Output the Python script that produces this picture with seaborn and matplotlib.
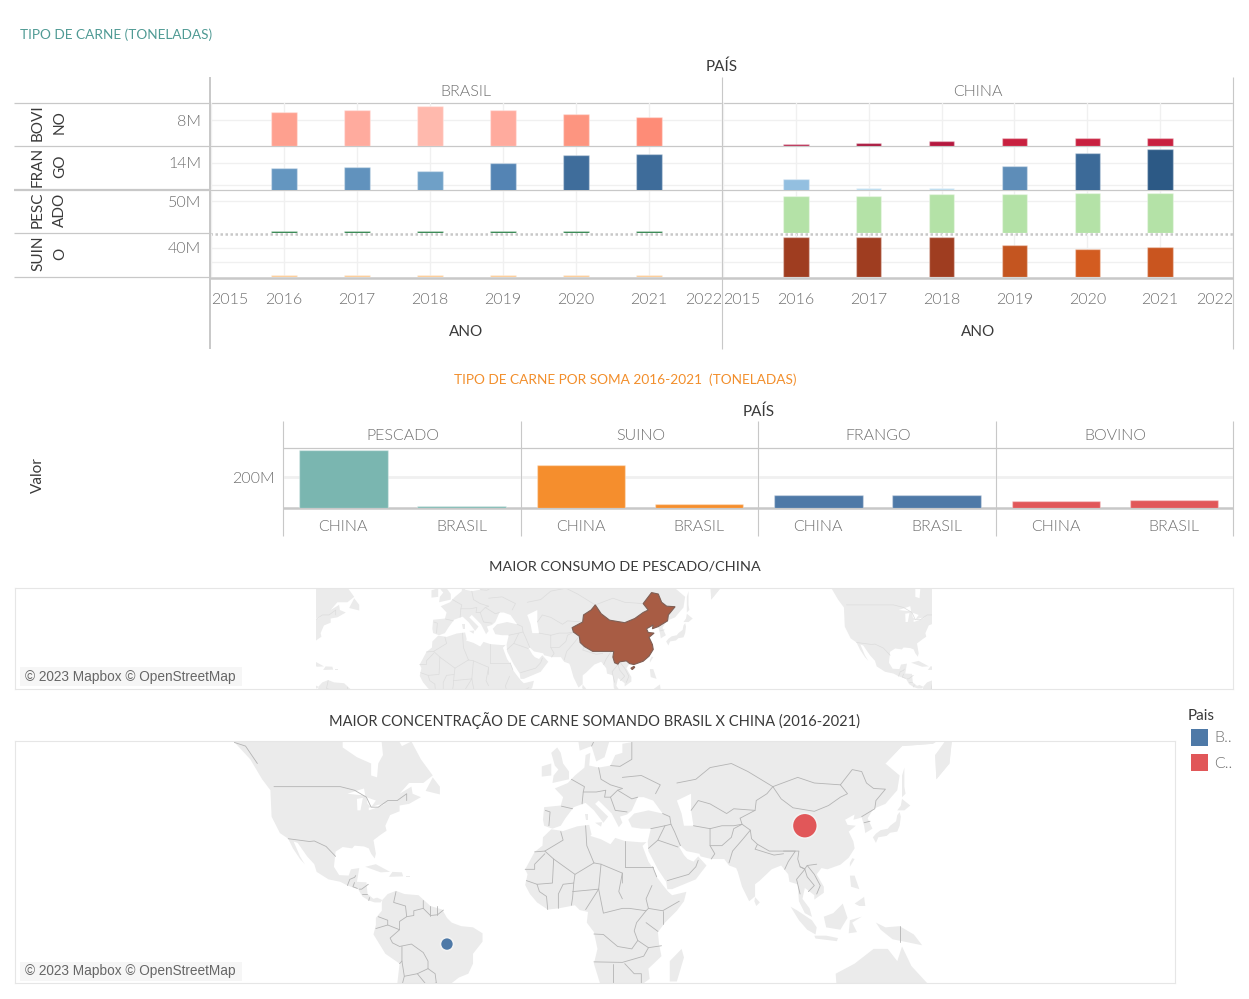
import numpy as np
import pandas as pd
import matplotlib
matplotlib.use("Agg")
import matplotlib.pyplot as plt
from matplotlib.patches import Polygon, Rectangle
import seaborn as sns

# =========================
# DATA (millions of tonnes)
# =========================
ANOS = [2016, 2017, 2018, 2019, 2020, 2021]
EIXO_ANOS = [2015, 2016, 2017, 2018, 2019, 2020, 2021, 2022]
PAISES = ["BRASIL", "CHINA"]
CARNES = ["BOVINO", "FRANGO", "PESCADO", "SUINO"]

BOVINO_BRASIL = [10.5, 11.3, 12.4, 11.3, 9.85, 9.0]
BOVINO_CHINA = [0.5, 0.9, 1.45, 2.5, 2.5, 2.5]
FRANGO_BRASIL = [13.52, 13.64, 13.27, 13.97, 14.67, 14.77]
FRANGO_CHINA = [12.49, 11.7, 11.7, 13.73, 14.88, 15.22]
PESCADO_BRASIL = [2.5, 2.5, 2.5, 2.5, 2.5, 2.5]
PESCADO_CHINA = [58.9, 58.9, 61, 61, 63, 63]
SUINO_BRASIL = [2.5, 2.5, 2.5, 2.5, 2.5, 2.5]
SUINO_CHINA = [55.6, 55.6, 55.6, 43.8, 38.4, 41.9]

SOMA_CARNES = ["PESCADO", "SUINO", "FRANGO", "BOVINO"]
SOMA_PAISES = ["CHINA", "BRASIL"]
SOMA_CHINA = [379, 280, 84, 42]
SOMA_BRASIL = [9, 24, 84, 51]
SOMA_CORES = ["#7ab6b0", "#f58e2d", "#4e79a7", "#e15759"]

PONTOS_PAIS = ["Brasil", "China"]
PONTOS_LON = [-50, 101]
PONTOS_LAT = [-10, 37]
PONTOS_VALOR = [168, 785]

# Colours of the yearly bars
CORES = {
    ("BOVINO", "BRASIL"): ["#fea08f", "#ffab9e", "#ffb9ad", "#ffab9e", "#fd9580", "#fe8c77"],
    ("BOVINO", "CHINA"): ["#b5224a", "#a8143a", "#b5173e", "#c8203f", "#c8203f", "#c8203f"],
    ("FRANGO", "BRASIL"): ["#6496c0", "#6192bd", "#6fa0c7", "#5484b4", "#3f6d9b", "#3e6c9a"],
    ("FRANGO", "CHINA"): ["#93bfe0", "#bcdcf0", "#bcdcf0", "#5e8db8", "#3c6a98", "#2c5985"],
    ("PESCADO", "BRASIL"): ["#1f7a3e"] * 6,
    ("PESCADO", "CHINA"): ["#b4e2a7"] * 6,
    ("SUINO", "BRASIL"): ["#fdc88d"] * 6,
    ("SUINO", "CHINA"): ["#9f3d20", "#9f3d20", "#9f3d20", "#c45520", "#d35c20", "#c9551f"],
}

# y range and gridlines of each row, with the only label shown
LINHAS = {
    "BOVINO": {"lim": (0, 13.4), "grid": [8], "rotulos": ["8M"]},
    "FRANGO": {"lim": (11.52, 15.43), "grid": [12, 14], "rotulos": ["", "14M"]},
    "PESCADO": {"lim": (0, 66), "grid": [50], "rotulos": ["50M"]},
    "SUINO": {"lim": (0, 59.3), "grid": [20, 40], "rotulos": ["", "40M"]},
}

# =========================
# COARSE MAP OUTLINES (lon, lat)
# =========================
TERRAS = [
    # North and Central America
    [(-168, 66), (-162, 70), (-156, 71), (-141, 70), (-128, 70), (-115, 68), (-108, 68), (-95, 68), (-94, 72),
     (-85, 70), (-82, 67), (-87, 64), (-94, 61), (-94, 58.7), (-88, 56.5), (-82, 55), (-82, 52), (-79.5, 51.5),
     (-79, 55), (-77, 57), (-78, 62), (-72, 61.5), (-69, 59), (-65, 60), (-61, 56), (-56, 52), (-60, 50), (-66, 50),
     (-70, 47), (-65, 49), (-64.5, 47), (-61, 46), (-66, 44), (-70, 43.5), (-70, 41.7), (-74, 40.5), (-76, 37),
     (-75.5, 35.3), (-78, 33.9), (-81, 32), (-80, 27), (-80.5, 25.2), (-82, 27), (-83, 29), (-85, 29.7), (-89, 30),
     (-90, 29), (-94, 29.5), (-97, 27.8), (-97.7, 22), (-95.5, 18.7), (-91.5, 18.5), (-90.5, 21), (-87, 21.5),
     (-88, 16), (-84, 15.8), (-83.5, 11), (-81, 9), (-79.5, 9.5), (-77.3, 8.5), (-78, 7.5), (-80.5, 7.5), (-83, 8.3),
     (-85.7, 10), (-87.5, 13), (-92, 14.5), (-95, 16), (-100, 17), (-105, 20), (-106, 23), (-109, 26), (-113, 31),
     (-114.7, 31.5), (-112, 26), (-110, 23), (-112, 25), (-115, 29), (-117, 32.5), (-120.5, 34.5), (-124, 40),
     (-124.5, 48), (-128, 51), (-133, 56), (-140, 60), (-150, 61), (-155, 58), (-162, 55), (-158, 58.5), (-165, 61),
     (-165, 64)],
    # South America
    [(-77.3, 8.5), (-75, 11), (-71.5, 12.3), (-68, 11), (-62, 10.5), (-57, 6), (-52, 4.5), (-50, 1), (-48, -1),
     (-44, -2.5), (-39, -3), (-35, -5.5), (-35, -9), (-39, -14), (-39, -18), (-41, -22), (-45, -23.5), (-48.5, -26),
     (-49, -29), (-53, -34), (-58, -34.5), (-57, -38), (-62, -39), (-65, -43), (-66, -47), (-69, -51), (-68, -55),
     (-73, -53), (-75, -47), (-73, -40), (-71.5, -30), (-70, -18), (-76, -14), (-81, -6), (-80, -2), (-80, 1),
     (-77.5, 4), (-77.5, 7)],
    # Africa
    [(-6, 35.8), (-1, 35.2), (5, 36.8), (10, 37.3), (11, 34), (10.5, 33.5), (15, 32.3), (19, 30.5), (21, 32.8),
     (25, 31.7), (32, 31.2), (34.2, 31.3), (32.5, 29.9), (35, 24), (37.2, 21), (38.5, 18), (41, 14.8), (43.3, 12),
     (45, 10.5), (51, 11.9), (50, 8), (47, 4), (42, -1), (39, -5), (39.5, -10), (40.5, -15), (35, -20), (35.5, -24),
     (32.5, -26), (32, -29), (27, -34), (20, -34.8), (18, -33), (15, -27), (12, -18), (13.5, -12), (12, -5), (9, -1),
     (9.5, 3.5), (6, 4.3), (4, 6.3), (-3, 5), (-7.5, 4.5), (-12, 7.5), (-15, 11), (-17, 14.7), (-16, 19), (-17, 21),
     (-13, 27.7), (-9.7, 30), (-9.5, 33)],
    # Eurasia
    [(-9, 37), (-9.5, 39), (-9, 43), (-2, 43.5), (-1, 46), (-4.5, 48.5), (1, 50), (4, 52), (8, 54), (8.5, 57),
     (10.5, 57.5), (10, 54.5), (14, 54), (19, 54.5), (21, 57), (24, 57.5), (24, 59.5), (30, 60), (23, 60), (21, 62.5),
     (25, 65.5), (22, 65.8), (17.5, 62), (18.5, 60), (16.5, 56.5), (13, 55.5), (11, 59), (6, 58), (5, 61.5),
     (12, 65.5), (18, 70), (26, 71), (41, 67), (40, 64.7), (44, 66), (54, 69), (68, 69), (68, 72.5), (80, 73),
     (100, 77), (113, 74), (130, 71), (140, 73), (160, 70), (180, 69), (180, 65), (177, 62.5), (163, 60), (162, 55),
     (156.5, 51), (156, 57), (163, 62), (155, 59.5), (142, 59), (135, 55), (141, 52), (140, 48), (135, 44),
     (130, 42.5), (127.5, 39.5), (129.5, 36), (126.5, 34.5), (126, 37), (125, 39.7), (121.5, 39), (122, 40.7),
     (118, 39), (119, 37.3), (122.5, 37), (119.5, 35), (121.5, 31.5), (122, 29), (119.5, 25.5), (116, 22.8),
     (110.5, 21), (108, 21.5), (106, 19), (109, 14), (109, 11.5), (105, 8.7), (105, 10.5), (101, 13.5), (100, 9),
     (103, 5), (104, 1.4), (101, 3), (98.5, 8), (98, 15), (94.5, 16), (94, 19), (91, 22.5), (87, 21), (82, 16.5),
     (80, 15), (80, 10), (77.5, 8), (74.5, 14), (72.7, 20), (72, 21.5), (69, 22.5), (67, 25), (61.5, 25), (57, 26),
     (56.5, 27), (51, 28), (48.5, 30), (48, 29.5), (50, 26.5), (51.5, 25), (54, 24), (56, 26), (59.5, 22.5), (55, 17),
     (45, 13), (43, 13), (42.5, 16), (39, 21), (35, 28), (34.7, 31.5), (36, 36), (32, 36), (28, 36.5), (26.5, 39),
     (29, 41), (35, 42), (41, 41), (37, 45), (35, 45.5), (33, 46), (30.5, 46), (28, 42), (26, 40.7), (23, 40),
     (24, 38), (22.5, 36.5), (19.5, 41), (14, 45), (12.5, 44), (18, 40), (16, 38), (12, 42), (8.5, 44.3), (3.5, 43),
     (0, 39.5), (-2, 37), (-5.5, 36)],
]

ILHAS = [
    [(-5.5, 50), (1.5, 51), (1.5, 53), (-1, 55), (-2, 57.5), (-3.5, 58.7), (-6, 57.5), (-4.5, 54.5), (-3, 53.5), (-5, 52)],
    [(-10, 51.7), (-6, 52), (-6, 55), (-10, 54.3)],
    [(-59, 47.8), (-53, 46.8), (-53, 49), (-56, 51.5)],
    [(-84.5, 22), (-80, 23), (-74, 20), (-78, 19.8)],
    [(-74.5, 18), (-68.5, 18.2), (-69, 19.8), (-73, 20)],
    [(-67.2, 18), (-65.6, 18), (-65.6, 18.5), (-67.2, 18.5)],
    [(12.5, 38), (15.5, 38.2), (15, 36.7)],
    [(8.3, 41), (9.7, 41), (9.7, 39), (8.5, 39)],
    [(129.7, 33), (131, 31), (132, 33), (135.5, 33.5), (137, 34.6), (140, 35), (141, 37), (141.5, 40), (141, 41.5),
     (140, 40.5), (139.5, 38.5), (137, 37), (136, 36), (133, 35.5), (131, 34.3)],
    [(140, 42), (143, 42), (145.5, 43.5), (142, 45.5), (141.5, 43.5)],
    [(142, 46), (143.5, 47), (143, 49), (143, 54), (142, 52)],
    [(120, 22), (122, 25), (121, 25.3), (120, 23.5)],
    [(80, 9.7), (82, 7.5), (80.5, 6), (79.7, 8)],
    [(44, -25), (47, -25), (50, -15.5), (49, -12), (44, -17)],
    [(95, 5.7), (98, 4), (104, 0), (106, -3), (105.5, -6), (102, -4), (98.5, 0)],
    [(105, -6.5), (110, -6.5), (115, -7.5), (114.5, -8.8), (105.5, -7.7)],
    [(109, 1.5), (113, 3), (117, 7), (119, 1), (116, -4), (110, -3)],
    [(119.5, -5.5), (120, 0), (125, 1.5), (121, -1), (123, -5)],
    [(131, -1), (135, -3), (141, -2.5), (147, -6), (150.5, -10.5), (143, -9), (138, -8), (133, -4)],
    [(120, 18.5), (122, 18.5), (124, 13), (120.5, 14)],
    [(122, 7), (126, 9.8), (126.5, 6), (124, 6)],
    [(114, -22), (122, -18), (130, -12), (136, -12), (140, -17), (142, -11), (146, -19), (153, -26), (153, -33),
     (147, -38), (138, -35), (131, -31.5), (124, -33), (115, -34)],
    # Far east of Russia
    [(135, 55), (142, 59), (155, 59.5), (163, 62), (180, 65), (180, 78), (130, 78)],
    [(156, 57), (163, 60), (162, 55), (156.5, 51)],
]

# Water cut out of the land (Caspian, Great Lakes)
AGUAS = [
    [(47, 45), (53, 47), (53, 42), (54, 37), (50, 37), (49, 41)],
    [(-92, 47), (-85, 48.5), (-84.5, 46.5), (-88, 46.7)],
    [(-88, 45.5), (-85.5, 45.8), (-86.5, 42), (-87.8, 42)],
    [(-84, 46), (-80, 45), (-82, 43), (-83.5, 44)],
    [(-83, 42), (-79, 43), (-76, 44), (-79, 43.7), (-83, 42.8)],
]

CHINA_CONTORNO = [
    [(73.7, 39.5), (80, 42), (80.5, 45), (85, 47), (87.5, 49), (91, 45.5), (96, 42.8), (105, 41.7), (111, 43.5),
     (116, 46), (119, 47), (116, 49.5), (121, 53.5), (125, 53), (127, 50), (130, 48.5), (135, 48.3), (131, 45),
     (130.5, 42.5), (125, 40), (121.5, 39), (122, 40.7), (118, 39), (119, 37.3), (122.5, 37), (119.5, 35),
     (121.5, 31.5), (122, 29), (119.5, 25.5), (116, 22.8), (110.5, 21), (108, 21.5), (106, 23), (102, 22.5),
     (101, 21.2), (99, 22), (98, 25), (98.5, 28), (92, 28), (86, 28), (81, 30.5), (78.5, 32.5), (78, 35.5),
     (74.5, 37.5)],
    [(108.7, 19), (110.5, 20), (111, 19.5), (109.5, 18.2)],
]

FRONTEIRAS = [
    [(-141, 70), (-141, 60), (-135, 59), (-130, 55)],
    [(-123, 49), (-95, 49), (-89, 48), (-84, 46), (-82, 43), (-79, 43), (-75, 45), (-71, 45), (-67, 47), (-67, 45)],
    [(-117, 32.5), (-108, 31.5), (-106, 31.7), (-101, 29.7), (-97, 26)],
    [(-92, 14.5), (-91, 17), (-89, 17.8), (-88.5, 18.5)], [(-89, 15.7), (-89.7, 14), (-87.8, 13.3)],
    [(-83.2, 15), (-86, 13), (-87, 13)], [(-85.7, 11), (-83.7, 11)], [(-83, 8.3), (-82.7, 9.5)],
    [(-71.5, 12), (-72.5, 7.5), (-67.5, 6), (-67, 1.5)],
    [(-60, 5), (-64, 4), (-64, 2), (-67, 1.5), (-70, -0.5), (-70, -4), (-74, -7.5), (-73, -9.5), (-70, -11), (-65, -10),
     (-60, -13.5), (-58, -17), (-58, -20), (-55, -22), (-54.5, -25.5), (-57.5, -30), (-53, -33.5)],
    [(-60, 8.3), (-60, 5), (-57, 2), (-54, 2.3), (-51.5, 4.3)], [(-57, 6), (-57, 2)], [(-54, 5.8), (-54, 2.3)],
    [(-80, -3.5), (-75, -2), (-70, -4)], [(-79, 1.5), (-75, 0), (-75, -2)], [(-69, -11), (-69, -17), (-70, -18)],
    [(-69, -17), (-68, -23), (-70, -30)], [(-58, -20), (-62.5, -22), (-68, -23)], [(-62.5, -22), (-58, -27), (-54.5, -25.5)],
    [(-2, 35), (-1, 32), (-8.7, 28), (-13, 27.7)], [(8.5, 37), (9, 30), (12, 23.5)], [(25, 31.7), (25, 22)],
    [(25, 22), (36.8, 22)], [(12, 23.5), (15, 23), (24, 19.5), (24, 15.5)], [(24, 19.5), (22.5, 12), (24, 9)],
    [(-8.7, 28), (-5, 25), (4, 19), (12, 23.5)], [(-17, 21), (-13, 21), (-13, 23), (-8.7, 27)],
    [(-16.5, 16.5), (-12, 15), (-11, 12), (-8, 10), (-7.5, 4.5)], [(-5, 25), (-5.5, 15.5), (-12, 15)],
    [(4, 19), (3.5, 15.5), (-1, 15), (-3, 11), (-3, 5)], [(3.5, 15.5), (3, 9.5), (2.5, 6.3)], [(3, 12), (14, 13), (15, 23)],
    [(14, 13), (8.5, 4.5)], [(14, 13), (15, 8), (16, 3), (18, 3.5), (24, 5), (27, 5), (34, 4), (35, 5)],
    [(36.8, 22), (38.5, 18)], [(36.5, 14.5), (34, 9), (35, 5), (41, 4), (48, 8)], [(41, -1.7), (41, 4)],
    [(34, -1), (39, -4.7)], [(34, 4), (30, -1), (29, -4.5), (30.5, -8.5), (35, -11.5), (40.5, -10.7)],
    [(12, -5.8), (16, -6), (22, -11), (28, -12), (30.5, -8.5)], [(12, -17.3), (24, -17.5), (33, -15), (35, -11.5)],
    [(20, -18), (20, -28), (17, -28)], [(25, -18), (29, -22), (32, -22), (32, -26)],
    [(-1.7, 43.3), (3, 42.5)], [(-8.5, 42), (-6.5, 41.5), (-7, 37)], [(2.5, 51), (8, 49), (7.5, 47.5), (7, 44)],
    [(14, 54), (15, 51), (19, 49.5), (24, 48.5)], [(7.5, 47.5), (13, 47.5), (17, 48), (16.5, 46), (19, 46), (22, 48), (24, 48.5)],
    [(28, 60), (28, 56), (23, 54.3), (19, 54.5)], [(24, 51.5), (32, 52), (40, 49.5), (38, 47)], [(28, 70), (30, 62), (28, 60.5)],
    [(20, 69), (14, 65), (12, 60), (11, 59)], [(19, 46), (21, 42), (26, 41.5)], [(22, 48), (28, 45.5), (30.5, 46)],
    [(47, 50), (55, 51), (61, 54), (70, 55), (77, 53), (87.5, 49)], [(53, 42), (56, 45), (61, 44), (68, 41), (71, 42.5), (80, 42)],
    [(36, 36), (42, 37), (44.5, 37.5), (44, 40), (41, 41)], [(48.5, 30), (46, 35), (44.5, 37.5)],
    [(35, 29), (39, 32), (42, 37)], [(39, 32), (47.5, 29.5)], [(43, 16.5), (52, 19), (55, 22), (56, 24.5)],
    [(61.5, 25), (63, 27), (61, 30), (61, 36)], [(61, 36), (66, 37), (71, 37), (74.5, 37.5)],
    [(61, 30), (66, 30), (70, 33), (71, 36), (74.5, 37.5)], [(69, 23.5), (70.5, 28), (74.5, 32), (78, 35.5)],
    [(54, 37), (61, 36)], [(81, 30.5), (80, 28.7), (88, 26.5), (92, 27)], [(92, 28), (97, 28), (94, 24), (92.5, 21)],
    [(99, 22), (101, 21), (97.5, 17), (99, 11)], [(102, 22.5), (105, 19), (107.5, 14.5), (106, 11)],
    [(101, 21), (102, 18), (105, 14.5), (102.5, 12)],
    [(87.5, 49), (91, 45.5), (96, 42.8), (105, 41.7), (111, 43.5), (116, 46), (119, 47), (116, 49.5)],
    [(87.5, 49), (98, 51.5), (105, 50), (116, 49.5)],
    [(116, 49.5), (121, 53.5), (125, 53), (127, 50), (130, 48.5), (135, 48.3), (131, 45), (130.5, 42.5), (125, 40)],
    [(73.7, 39.5), (80, 42), (80.5, 45), (85, 47), (87.5, 49)],
    [(106, 23), (102, 22.5), (101, 21.2), (99, 22), (98, 25), (98.5, 28), (92, 28), (86, 28), (81, 30.5), (78.5, 32.5),
     (78, 35.5), (74.5, 37.5), (73.7, 39.5)],
    [(126, 38), (128.5, 38.5)], [(141, -2.5), (141, -9)],
]

# =========================
# GLOBAL SETTINGS
# =========================
sns.set_theme(style="white")
plt.rcParams["font.family"] = ["Lato", "DejaVu Sans"]

LARGURA, ALTURA = 1249, 999
COR_LINHA = "#c8c8c8"
COR_GRADE = "#f0f0f0"
COR_ROTULO = "#6e6e6e"
COR_ESCURO = "#3a3a3a"
BORDA_BARRA = (1, 1, 1, 0.35)
PESO_LEVE = 300

fig = plt.figure(figsize=(LARGURA / 100, ALTURA / 100), dpi=100, facecolor="white")


def eixo_px(x0, y0, x1, y1):
    """Axes placed by its pixel box, y counted from the top."""
    ax = fig.add_axes([x0 / LARGURA, 1 - y1 / ALTURA, (x1 - x0) / LARGURA, (y1 - y0) / ALTURA])
    ax.patch.set_alpha(0)
    for spine in ax.spines.values():
        spine.set_visible(False)
    return ax


def merc(lat):
    """Web Mercator y, in degrees."""
    return np.degrees(np.log(np.tan(np.pi / 4 + np.radians(np.asarray(lat, dtype=float)) / 2)))


# =========================
# TOP CHART: YEARLY BARS
# =========================
valores_linha = {
    ("BOVINO", "BRASIL"): BOVINO_BRASIL, ("BOVINO", "CHINA"): BOVINO_CHINA,
    ("FRANGO", "BRASIL"): FRANGO_BRASIL, ("FRANGO", "CHINA"): FRANGO_CHINA,
    ("PESCADO", "BRASIL"): PESCADO_BRASIL, ("PESCADO", "CHINA"): PESCADO_CHINA,
    ("SUINO", "BRASIL"): SUINO_BRASIL, ("SUINO", "CHINA"): SUINO_CHINA,
}
colunas_px = {"BRASIL": (211, 722), "CHINA": (723, 1233)}
linhas_px = {"BOVINO": (103, 146), "FRANGO": (147, 190), "PESCADO": (191, 233), "SUINO": (234, 277)}

for carne in CARNES:
    for pais in PAISES:
        x0, x1 = colunas_px[pais]
        y0, y1 = linhas_px[carne]
        ax = eixo_px(x0, y0, x1, y1)
        df = pd.DataFrame({"ano": ANOS, "valor": valores_linha[(carne, pais)]})
        sns.barplot(data=df, x="ano", y="valor", hue="ano", palette=CORES[(carne, pais)], native_scale=True,
                    width=0.35, dodge=False, legend=False, saturation=1, edgecolor=BORDA_BARRA, linewidth=1, ax=ax)
        config = LINHAS[carne]
        ax.set_xlim(2015, 2022)
        ax.set_ylim(*config["lim"])
        ax.set_xlabel("")
        ax.set_ylabel("")
        ax.set_axisbelow(True)
        ax.grid(True, color=COR_GRADE, linewidth=1)
        ax.set_yticks(config["grid"])
        if pais == "BRASIL":
            ax.set_yticklabels(config["rotulos"], fontsize=11.5, color=COR_ROTULO, fontweight=PESO_LEVE)
        else:
            ax.set_yticklabels([])
        ax.set_xticks(EIXO_ANOS)
        if carne == "SUINO":
            ax.set_xticklabels(EIXO_ANOS, fontsize=11.5, color=COR_ROTULO, fontweight=PESO_LEVE)
            rotulos = ax.get_xticklabels()
            rotulos[0].set_ha("left")
            rotulos[-1].set_ha("right")
        else:
            ax.set_xticklabels([])
        ax.tick_params(axis="y", length=0, pad=7)
        ax.tick_params(axis="x", length=0, pad=11.7)

# =========================
# MIDDLE CHART: TOTALS
# =========================
soma_px = [(284, 521), (522, 758), (759, 996), (997, 1233)]
for i, carne in enumerate(SOMA_CARNES):
    ax = eixo_px(soma_px[i][0], 449, soma_px[i][1], 507.5)
    df = pd.DataFrame({"pais": SOMA_PAISES, "valor": [SOMA_CHINA[i], SOMA_BRASIL[i]]})
    sns.barplot(data=df, x="pais", y="valor", color=SOMA_CORES[i], saturation=1, width=0.75,
                edgecolor=BORDA_BARRA, linewidth=1, ax=ax)
    ax.set_xlim(-0.5, 1.5)
    ax.set_ylim(0, 386)
    ax.set_xlabel("")
    ax.set_ylabel("")
    ax.set_axisbelow(True)
    ax.grid(True, axis="y", color=COR_GRADE, linewidth=2)
    ax.set_yticks([200])
    ax.set_yticklabels(["200M"] if i == 0 else [""], fontsize=11.5, color=COR_ROTULO, fontweight=PESO_LEVE)
    ax.tick_params(axis="y", length=0, pad=7)
    ax.tick_params(axis="x", length=0, pad=9, labelsize=11.5, labelcolor=COR_ROTULO)
    for rotulo in ax.get_xticklabels():
        rotulo.set_fontweight(PESO_LEVE)


# =========================
# MAPS
# =========================
def poligono(ax, contorno, cor, deslocamento, zorder):
    lon, lat = zip(*contorno)
    pontos_xy = np.column_stack([np.array(lon) + deslocamento, merc(lat)])
    ax.add_patch(Polygon(pontos_xy, closed=True, facecolor=cor, edgecolor="none", zorder=zorder))


def desenha_mapa(ax, deslocamentos, corte, cor_terra, cor_fronteira, lw):
    """Land, water and borders, masked outside the tile range given in corte."""
    ax.set_xticks([])
    ax.set_yticks([])
    x_lim = ax.get_xlim()
    y_lim = ax.get_ylim()
    for deslocamento in deslocamentos:
        for contorno in TERRAS:
            poligono(ax, contorno, cor_terra, deslocamento, 1)
        for contorno in AGUAS:
            poligono(ax, contorno, "white", deslocamento, 1.1)
        for contorno in ILHAS:
            poligono(ax, contorno, cor_terra, deslocamento, 1.5)
        for contorno in FRONTEIRAS:
            lon, lat = zip(*contorno)
            ax.plot(np.array(lon) + deslocamento, merc(lat), color=cor_fronteira, lw=lw, zorder=2)
    ax.axvspan(x_lim[0], corte[0], color="white", lw=0, zorder=2.2)
    ax.axvspan(corte[1], x_lim[1], color="white", lw=0, zorder=2.2)
    ax.set_xlim(*x_lim)
    ax.set_ylim(*y_lim)
    for spine in ax.spines.values():
        spine.set_visible(True)
        spine.set_color("#e6e6e6")
        spine.set_linewidth(0.8)


# Upper map: 1.68 px per degree, China centred near x=623
mapa1 = eixo_px(15, 588, 1233, 689)
mapa1.set_xlim(104 + (15 - 623) / 1.68, 104 + (1233 - 623) / 1.68)
mapa1.set_ylim(18.3 - (689 - 670) / 1.71, 18.3 + (670 - 588) / 1.71)
desenha_mapa(mapa1, [0, 360], (104 + (316 - 623) / 1.68, 104 + (932 - 623) / 1.68), "#ebebeb", "#dcdcdc", 0.5)
for contorno in CHINA_CONTORNO:
    lon, lat = zip(*contorno)
    mapa1.fill(lon, merc(lat), facecolor="#a85c44", edgecolor="#7f5f55", lw=0.8, zorder=5)

# Lower map: 2.37 px per degree, anchored on Senegal at (524, 885)
mapa2 = eixo_px(15, 741, 1175, 983)
mapa2.set_xlim(-17.5 + (15 - 524) / 2.37, -17.5 + (1175 - 524) / 2.37)
mapa2.set_ylim(14.87 - (983 - 885) / 2.37, 14.87 + (885 - 741) / 2.37)
desenha_mapa(mapa2, [0], (-140, 173), "#ebebeb", "#b4b4b4", 0.6)
pontos = pd.DataFrame({"Pais": PONTOS_PAIS, "lon": PONTOS_LON, "y": merc(PONTOS_LAT), "valor": PONTOS_VALOR})
sns.scatterplot(data=pontos, x="lon", y="y", hue="Pais", size="valor", sizes=(88, 324),
                palette=["#4e79a7", "#e15759"], edgecolor="#f2f2f2", linewidth=1.2, legend=False, zorder=6, ax=mapa2)
mapa2.set_xlabel("")
mapa2.set_ylabel("")

# =========================
# TEXTS AND RULES IN PIXELS
# =========================
# Rules sit below the bars, texts above everything
regras = fig.add_axes([0, 0, 1, 1], zorder=-1)
regras.set_xlim(0, LARGURA)
regras.set_ylim(ALTURA, 0)
regras.axis("off")
topo = fig.add_axes([0, 0, 1, 1], zorder=20)
topo.set_xlim(0, LARGURA)
topo.set_ylim(ALTURA, 0)
topo.axis("off")


def texto(x, y, s, cor=COR_ROTULO, tam=11.5, ha="center", peso=PESO_LEVE, **kw):
    topo.text(x, y + 1.5, s, color=cor, fontsize=tam, ha=ha, va="center", fontweight=peso, **kw)


def hline(y, x0, x1, lw=0.9, **kw):
    regras.plot([x0, x1], [y, y], color=COR_LINHA, lw=lw, solid_capstyle="butt", **kw)


def vline(x, y0, y1, lw=0.8):
    regras.plot([x, x], [y0, y1], color=COR_LINHA, lw=lw, solid_capstyle="butt")


texto(20, 33, "TIPO DE CARNE (TONELADAS)", cor="#4f9a94", tam=9.85, ha="left", peso="normal")
texto(722, 65, "PAÍS", cor=COR_ESCURO, tam=11, peso="normal")
texto(466, 90, "BRASIL")
texto(978, 90, "CHINA")
texto(466, 330, "ANO", cor=COR_ESCURO, tam=11, peso="normal")
texto(978, 330, "ANO", cor=COR_ESCURO, tam=11, peso="normal")

for carne, partes in zip(CARNES, [("BOVI", "NO"), ("FRAN", "GO"), ("PESC", "ADO"), ("SUIN", "O")]):
    meio = sum(linhas_px[carne]) / 2 - 3.5
    texto(38, meio, partes[0], cor=COR_ESCURO, tam=11, peso="normal", rotation=90)
    texto(60, meio, partes[1], cor=COR_ESCURO, tam=11, peso="normal", rotation=90)

hline(102.5, 14, 1233)
hline(146, 14, 1233)
hline(190, 14, 210, 1.6)
hline(190, 210, 1233)
hline(233, 14, 210)
hline(233.5, 210, 1233, 1.8, linestyle=(0, (1, 1)))
hline(277, 14, 210)
hline(277.5, 210, 1233, 1.8)
vline(210.5, 77, 349, 1.4)
vline(722.5, 77, 349)
vline(1233.5, 77, 349)

texto(625, 378, "TIPO DE CARNE POR SOMA 2016-2021  (TONELADAS)", cor="#f28e2b", tam=9.85, peso="normal")
texto(759, 410, "PAÍS", cor=COR_ESCURO, tam=11, peso="normal")
texto(38, 474, "Valor", cor=COR_ESCURO, tam=11, peso="normal", rotation=90)
for (x0, x1), carne in zip(soma_px, SOMA_CARNES):
    texto((x0 + x1) / 2 + 0.5, 435, carne)
for x in [283.5, 521.5, 758.5, 996.5, 1233.5]:
    vline(x, 421, 536)
hline(448, 283, 1233)
hline(508, 283, 1233, 1.8)

texto(625, 565, "MAIOR CONSUMO DE PESCADO/CHINA", cor=COR_ESCURO, tam=10.4, peso="normal")
texto(595, 719, "MAIOR CONCENTRAÇÃO DE CARNE SOMANDO BRASIL X CHINA (2016-2021)", cor=COR_ESCURO, tam=10.55, peso="normal")

for y0 in [667, 962]:
    topo.add_patch(Rectangle((20, y0), 222, 19, facecolor="#f6f6f6", edgecolor="none", alpha=0.9))
    topo.text(25, y0 + 9.5, "© 2023 Mapbox © OpenStreetMap", color="#666666", fontsize=9.85, va="center",
              family="Liberation Sans")

texto(1188, 715, "Pais", cor=COR_ESCURO, tam=11, ha="left", peso="normal")
for y0, cor, letra in zip([729, 754], ["#4e79a7", "#e15759"], ["B..", "C.."]):
    topo.add_patch(Rectangle((1191, y0), 17, 16.5, facecolor=cor, edgecolor="none"))
    texto(1214, y0 + 8, letra, ha="left")

fig.savefig("out.png", dpi=100, facecolor="white")
